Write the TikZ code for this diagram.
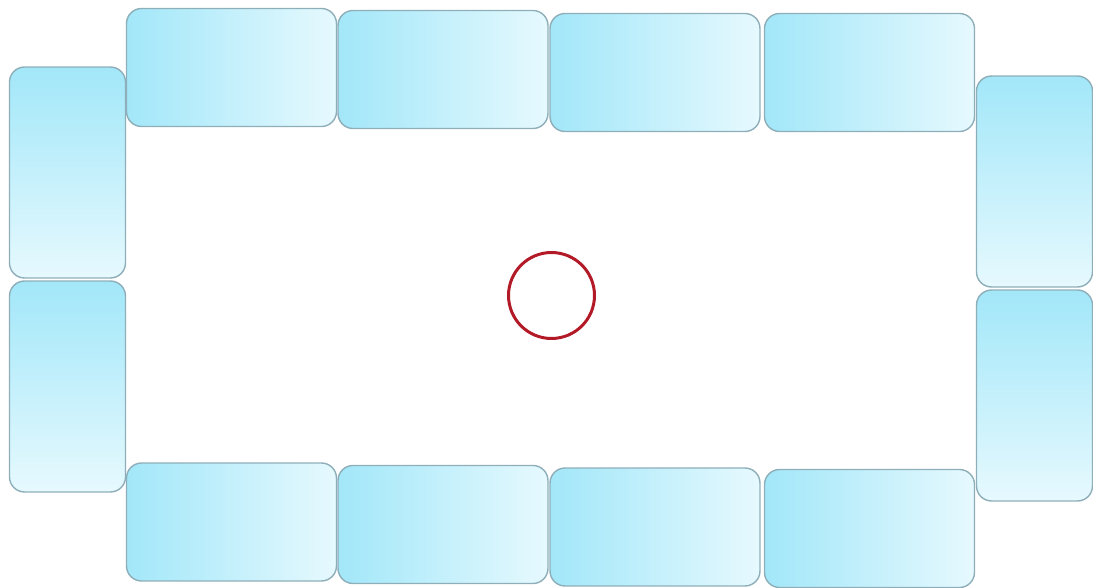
\documentclass[tikz,border=0pt]{standalone}
\usepackage{xcolor}
\usepackage{tikz}

\definecolor{seatdark}{HTML}{A2E7F9}
\definecolor{seatlight}{HTML}{E6F9FE}
\definecolor{seatline}{HTML}{8EAFB9}
\definecolor{tablered}{HTML}{B21A28}

\begin{document}
\begin{tikzpicture}[
x=0.02cm, y=-0.02cm,
hseat/.style={draw=seatline, line width=0.8pt, rectangle, rounded corners=0.3cm,
  minimum width=4.2cm, minimum height=2.36cm, inner sep=0pt, outer sep=0pt,
  left color=seatdark, right color=seatlight},
vseat/.style={draw=seatline, line width=0.8pt, rectangle, rounded corners=0.3cm,
  minimum width=2.32cm, minimum height=4.22cm, inner sep=0pt, outer sep=0pt,
  top color=seatdark, bottom color=seatlight},
table/.style={draw=tablered, line width=1.7pt, circle, minimum size=1.72cm, inner sep=0pt}
]

\useasboundingbox (0,0) rectangle (1093,588);

% top row
\node[hseat] (t1) at (231.5,67.5) {};
\node[hseat] (t2) at (443,69.5) {};
\node[hseat] (t3) at (655,72.5) {};
\node[hseat] (t4) at (869.5,72.5) {};

% left and right
\node[vseat] (l1) at (67.5,172.5) {};
\node[vseat] (l2) at (67.5,386.5) {};
\node[vseat] (r1) at (1034.5,181.5) {};
\node[vseat] (r2) at (1034.5,395.5) {};

% bottom row
\node[hseat] (b1) at (231.5,522) {};
\node[hseat] (b2) at (443,524.5) {};
\node[hseat] (b3) at (655,527) {};
\node[hseat] (b4) at (869.5,528.5) {};

% centre
\node[table] (c) at (551.5,295.5) {};

\end{tikzpicture}
\end{document}
